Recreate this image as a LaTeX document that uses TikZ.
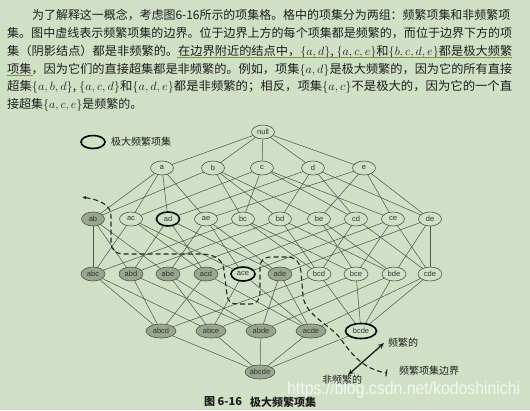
\documentclass[tikz,border=0pt]{standalone}
\usepackage{fontspec}
\usepackage{graphicx}
\usetikzlibrary{arrows.meta,shapes.geometric}
\newfontfamily\cjk{Noto Sans CJK SC}
\newfontfamily\labfont{Liberation Sans}
\definecolor{bg}{RGB}{207,224,197}
\definecolor{shade}{RGB}{152,166,142}
\definecolor{edgec}{RGB}{80,82,78}
\definecolor{uline}{RGB}{72,175,62}
\definecolor{ink}{RGB}{30,30,30}
\pgfdeclarelayer{bglayer}
\pgfdeclarelayer{edgelayer}
\pgfsetlayers{bglayer,edgelayer,main}
\newcommand\fitline[2]{\resizebox{#1}{\height}{#2}}
\begin{document}
\begin{tikzpicture}[x=1pt,y=-1pt,
  item/.style={ellipse, draw=edgec, line width=0.6pt, fill=bg, minimum width=23pt,
    minimum height=14pt, inner sep=0pt, font=\labfont\fontsize{7.5}{8}\selectfont, text=black!80},
  item4/.style={item, minimum width=30pt},
  infreq/.style={fill=shade},
  maximal/.style={draw=black, line width=1.6pt},
  edge/.style={draw=edgec, line width=0.5pt},
  para/.style={anchor=base west, inner sep=0pt, font=\cjk\fontsize{12}{14}\selectfont, text=ink},
  lbl/.style={anchor=west, inner sep=0pt, font=\cjk\fontsize{10}{12}\selectfont, text=ink},
  boundary/.style={draw=black!85, line width=1.1pt, dash pattern=on 5pt off 3pt}
]
\useasboundingbox (0,0) rectangle (530,410);
\begin{pgfonlayer}{bglayer}
\fill[bg] (0,0) rectangle (530,410);
\end{pgfonlayer}

% paragraph
\node[para] (p1) at (32,19.6) {\fitline{478pt}{为了解释这一概念，考虑图6-16所示的项集格。格中的项集分为两组：频繁项集和非频繁项}};
\node[para] (p2) at (7,37.4) {\fitline{505pt}{集。图中虚线表示频繁项集的边界。位于边界上方的每个项集都是频繁的，而位于边界下方的项}};
\node[para] (p3) at (7,55.2) {\fitline{505pt}{集（阴影结点）都是非频繁的。在边界附近的结点中，$\{a, d\}$, $\{a, c, e\}$和$\{b, c, d, e\}$都是极大频繁}};
\node[para] (p4) at (7,73) {\fitline{505pt}{项集，因为它们的直接超集都是非频繁的。例如，项集$\{a, d\}$是极大频繁的，因为它的所有直接}};
\node[para] (p5) at (7,90.8) {\fitline{505pt}{超集$\{a, b, d\}$, $\{a, c, d\}$和$\{a, d, e\}$都是非频繁的；相反，项集$\{a, c\}$不是极大的，因为它的一个直}};
\node[para] (p6) at (7,108.6) {接超集$\{a, c, e\}$是频繁的。};
\draw[uline, line width=0.8pt] (177,57.5) -- (512,57.5);
\draw[uline, line width=0.8pt] (7,75.5) -- (33,75.5);

% legend
\node[item, maximal, minimum width=24pt, minimum height=13pt] (leg) at (93,142) {};
\node[lbl] (legt) at (111,142) {极大频繁项集};

% lattice nodes
\node[item] (n0) at (263,132) {null};
\foreach \n/\x in {a/162,b/213,c/262,d/313,e/364}
  \node[item] (\n) at (\x,168) {\n};
\foreach \n/\x in {ac/131,ae/206,bc/243,bd/280,be/319,cd/356,ce/393,de/430}
  \node[item] (\n) at (\x,219) {\n};
\node[item, infreq] (ab) at (93,219) {ab};
\node[item, maximal] (ad) at (168,219) {ad};
\foreach \n/\x in {abc/93,abd/131,abe/168,acd/206,ade/280}
  \node[item, infreq, minimum width=24pt] (\n) at (\x,274) {\n};
\foreach \n/\x in {bcd/319,bce/356,bde/394,cde/430}
  \node[item, minimum width=24pt] (\n) at (\x,274) {\n};
\node[item, maximal, minimum width=24pt] (ace) at (243,274) {ace};
\foreach \n/\x in {abcd/161,abce/211,abde/261,acde/311}
  \node[item4, infreq] (\n) at (\x,331) {\n};
\node[item4, maximal, minimum width=31pt, minimum height=15pt] (bcde) at (361,331) {bcde};
\node[item4, infreq] (abcde) at (260,372) {abcde};

% edges
\begin{pgfonlayer}{edgelayer}
\foreach \x in {a,b,c,d,e} \draw[edge] (n0.center) -- (\x.center);
\foreach \x/\ys in {ab/{a,b},ac/{a,c},ad/{a,d},ae/{a,e},bc/{b,c},bd/{b,d},be/{b,e},cd/{c,d},ce/{c,e},de/{d,e},
  abc/{ab,ac,bc},abd/{ab,ad,bd},abe/{ab,ae,be},acd/{ac,ad,cd},ace/{ac,ae,ce},ade/{ad,ae,de},
  bcd/{bc,bd,cd},bce/{bc,be,ce},bde/{bd,be,de},cde/{cd,ce,de},
  abcd/{abc,abd,acd,bcd},abce/{abc,abe,ace,bce},abde/{abd,abe,ade,bde},acde/{acd,ace,ade,cde},bcde/{bcd,bce,bde,cde},
  abcde/{abcd,abce,abde,acde,bcde}}
  \foreach \y in \ys \draw[edge] (\x.center) -- (\y.center);
\end{pgfonlayer}

% boundary
\coordinate (bstart) at (82,197);
\coordinate (bend) at (387,373);
\draw[boundary, {Latex[length=4pt,width=3.5pt]}-{Bar[width=7pt]}] (bstart) .. controls (100,200) and (111,205) .. (111,216) -- (111,242)
  .. controls (111,250) and (115,254) .. (125,254) -- (198,254)
  .. controls (216,254) and (222,259) .. (224,270) -- (227,295)
  .. controls (228,302) and (231,304) .. (238,304) -- (250,304)
  .. controls (257,304) and (260,300) .. (260,292) -- (260,268)
  .. controls (260,260) and (264,257) .. (272,257) -- (286,257)
  .. controls (296,257) and (300,262) .. (301,272) -- (303,296)
  .. controls (305,315) and (330,325) .. (340,338)
  .. controls (350,352) and (362,369) .. (bend);

% double arrow and labels
\coordinate (ar1) at (348,375);
\coordinate (ar2) at (384,343);
\draw[{Stealth[length=6pt,width=5pt]}-{Stealth[length=6pt,width=5pt]}, line width=1.3pt, ink] (ar1) -- (ar2);
\node[lbl] (lf) at (388,343) {频繁的};
\node[lbl] (lb) at (399,371) {频繁项集边界};
\node[lbl] (lnf) at (322,380) {非频繁的};

% caption
\node[lbl, font=\cjk\bfseries\fontsize{11}{12}\selectfont] (cap1) at (204,402) {图 6-16};
\node[lbl, font=\cjk\bfseries\fontsize{11}{12}\selectfont] (cap2) at (250,402) {极大频繁项集};

% watermark
\node[anchor=west, inner sep=0pt, text=white, text opacity=0.75] (wm) at (287,390)
  {\resizebox{233pt}{13pt}{\labfont\fontsize{14}{16}\selectfont https://blog.csdn.net/kodoshinichi}};
\end{tikzpicture}
\end{document}
